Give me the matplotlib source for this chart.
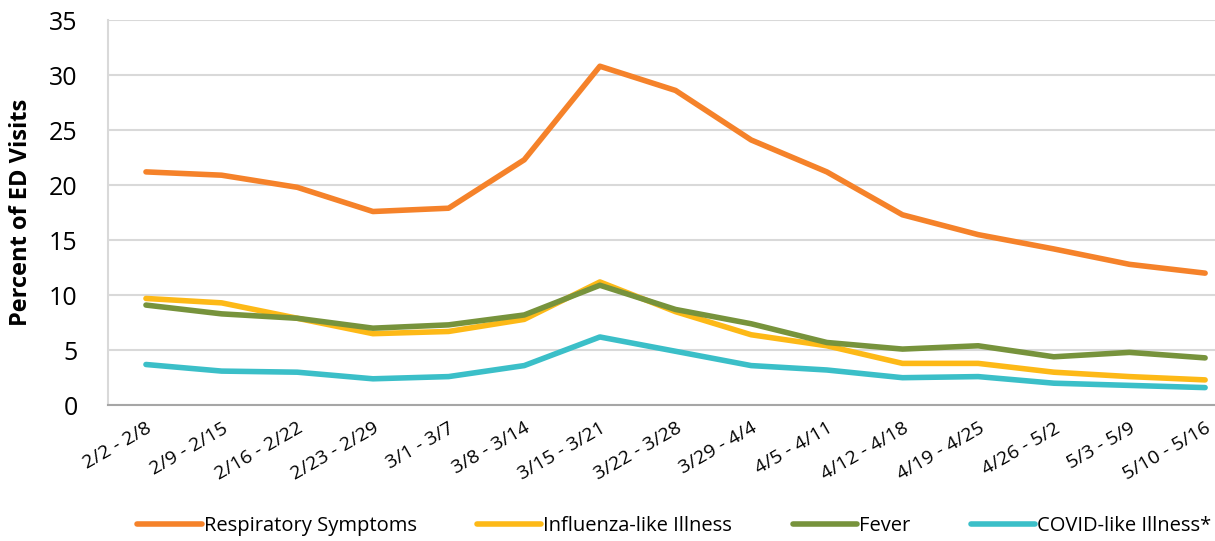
import matplotlib.pyplot as plt

weeks = ['2/2 - 2/8', '2/9 - 2/15', '2/16 - 2/22', '2/23 - 2/29', '3/1 - 3/7',
         '3/8 - 3/14', '3/15 - 3/21', '3/22 - 3/28', '3/29 - 4/4', '4/5 - 4/11',
         '4/12 - 4/18', '4/19 - 4/25', '4/26 - 5/2', '5/3 - 5/9', '5/10 - 5/16']

respiratory = [21.2, 20.9, 19.8, 17.6, 17.9, 22.3, 30.8, 28.6, 24.1, 21.2, 17.3, 15.5, 14.2, 12.8, 12.0]
ili = [9.7, 9.3, 7.9, 6.5, 6.7, 7.8, 11.2, 8.5, 6.4, 5.4, 3.8, 3.8, 3.0, 2.6, 2.3]
fever = [9.1, 8.3, 7.9, 7.0, 7.3, 8.2, 10.9, 8.7, 7.4, 5.7, 5.1, 5.4, 4.4, 4.8, 4.3]
covid = [3.7, 3.1, 3.0, 2.4, 2.6, 3.6, 6.2, 4.9, 3.6, 3.2, 2.5, 2.6, 2.0, 1.8, 1.6]

plt.rcParams['font.family'] = ['Open Sans', 'DejaVu Sans']

fig = plt.figure(figsize=(12.15, 5.41), dpi=100)
ax = fig.add_axes([0.089, 0.251, 0.934, 0.712])

x = range(len(weeks))
ax.plot(x, respiratory, color='#F5822A', lw=4, label='Respiratory Symptoms', solid_capstyle='round')
ax.plot(x, ili, color='#FDB917', lw=4, label='Influenza-like Illness', solid_capstyle='round')
ax.plot(x, fever, color='#77933C', lw=4, label='Fever', solid_capstyle='round')
ax.plot(x, covid, color='#3BBFC8', lw=4, label='COVID-like Illness*', solid_capstyle='round')

ax.set_xlim(-0.5, len(weeks) - 0.5)
ax.set_ylim(0, 35)
ax.set_yticks(range(0, 36, 5))
ax.tick_params(axis='y', labelsize=18, length=0, pad=22)
ax.set_xticks(list(x))
ax.set_xticklabels(weeks, rotation=30, ha='right', rotation_mode='anchor', fontsize=14)
ax.tick_params(axis='x', length=0, pad=10)
ax.grid(axis='y', color='#D9D9D9', lw=1.5)
ax.set_axisbelow(True)
for s in ['top', 'right']:
    ax.spines[s].set_visible(False)
ax.spines['left'].set_color('#D9D9D9')
ax.spines['left'].set_linewidth(1.5)
ax.spines['bottom'].set_color('#A6A6A6')
ax.spines['bottom'].set_linewidth(1.5)

ax.set_ylabel('Percent of ED Visits', fontsize=17, fontweight='bold')
ax.yaxis.set_label_coords(-0.066, 0.5)

fig.legend(loc='lower center', bbox_to_anchor=(0.555, -0.025), ncol=4, frameon=False,
           fontsize=14.5, handlelength=3.2, handletextpad=0.1, columnspacing=3.0)

fig.savefig('out.png', dpi=100)
